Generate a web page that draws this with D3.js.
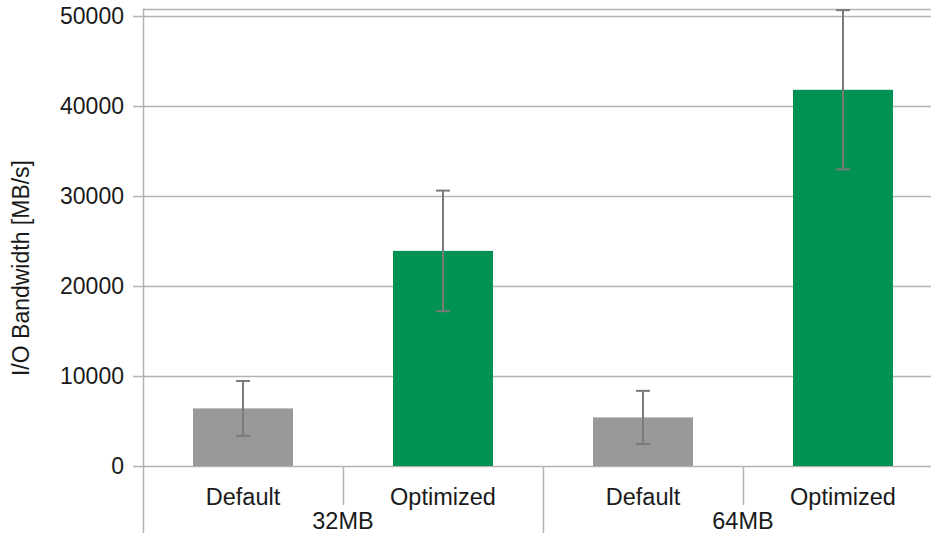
<!DOCTYPE html>
<html>
<head>
<meta charset="utf-8">
<script src="https://cdn.jsdelivr.net/npm/d3@7"></script>
<style>
  html, body { margin: 0; padding: 0; background: #fff; }
  svg { display: block; }
  text { font-family: "Liberation Sans", Arial, sans-serif; fill: #1a1a1a; }
</style>
</head>
<body>
<svg id="chart" width="931" height="535"></svg>
<script>
// Buffer sizes (outer groups) and variants (inner categories)
const groups = ["32MB", "64MB"];
const variants = ["Default", "Optimized"];
// Mean bandwidth [MB/s] per group, in variant order
const bandwidth32 = [6400, 23900];
const bandwidth64 = [5400, 41800];
// Error (± deviation) per group, in variant order
const error32 = [3050, 6700];
const error64 = [2950, 8850];
const yTicks = [0, 10000, 20000, 30000, 40000, 50000];

const colors = { Default: "#999999", Optimized: "#009252" };

const rows = [];
groups.forEach((g, gi) => {
  const vals = gi === 0 ? bandwidth32 : bandwidth64;
  const errs = gi === 0 ? error32 : error64;
  variants.forEach((v, vi) => rows.push({ group: g, variant: v, value: vals[vi], err: errs[vi] }));
});

const svg = d3.select("#chart");
const left = 143, plotW = 800, bottom = 466;
const yMax = 50800;

const y = d3.scaleLinear().domain([0, yMax]).range([bottom, bottom - yMax * 0.009]);
const x0 = d3.scaleBand().domain(groups).range([left, left + plotW]);
const x1 = d3.scaleBand().domain(variants).range([0, x0.bandwidth()])
  .paddingInner(0.5).paddingOuter(0.25);

const gridColor = "#b3b3b3";

// Horizontal gridlines
svg.append("g").selectAll("line").data(yTicks).join("line")
  .attr("x1", left - 10).attr("x2", left + plotW)
  .attr("y1", d => Math.round(y(d)) + 0.5).attr("y2", d => Math.round(y(d)) + 0.5)
  .attr("stroke", gridColor).attr("stroke-width", 1.5);

// Top frame line
svg.append("line")
  .attr("x1", left).attr("x2", left + plotW)
  .attr("y1", Math.round(y(yMax)) + 0.5).attr("y2", Math.round(y(yMax)) + 0.5)
  .attr("stroke", gridColor).attr("stroke-width", 1.5);

// Y axis tick labels
svg.append("g").selectAll("text").data(yTicks).join("text")
  .attr("x", 124).attr("y", d => y(d))
  .attr("dy", "0.36em")
  .attr("text-anchor", "end")
  .style("font-size", "23px")
  .text(d => d);

// Y axis title
svg.append("text")
  .attr("transform", "translate(29,268) rotate(-90)")
  .attr("text-anchor", "middle")
  .style("font-size", "23px")
  .text("I/O Bandwidth [MB/s]");

// Bars
const barG = svg.append("g");
barG.selectAll("rect").data(rows).join("rect")
  .attr("x", d => x0(d.group) + x1(d.variant))
  .attr("width", x1.bandwidth())
  .attr("y", d => y(d.value))
  .attr("height", d => y(0) - y(d.value))
  .attr("fill", d => colors[d.variant]);

// Error bars
const errG = svg.append("g").attr("stroke", "#7a7a7a").attr("stroke-width", 2);
rows.forEach(d => {
  const cx = x0(d.group) + x1(d.variant) + x1.bandwidth() / 2;
  errG.append("line").attr("x1", cx).attr("x2", cx)
    .attr("y1", y(d.value + d.err)).attr("y2", y(d.value - d.err));
  [d.value + d.err, d.value - d.err].forEach(v => {
    errG.append("line").attr("x1", cx - 7).attr("x2", cx + 7)
      .attr("y1", y(v)).attr("y2", y(v));
  });
});

// Left axis line
svg.append("line")
  .attr("x1", left + 0.5).attr("x2", left + 0.5)
  .attr("y1", y(yMax)).attr("y2", 533)
  .attr("stroke", gridColor).attr("stroke-width", 1.5);

// Category separators (inner) and group separators (outer)
const axisG = svg.append("g").attr("stroke", gridColor).attr("stroke-width", 1.5);
groups.forEach(g => {
  const mid = x0(g) + x0.bandwidth() / 2;
  axisG.append("line").attr("x1", mid + 0.5).attr("x2", mid + 0.5)
    .attr("y1", bottom).attr("y2", 505);
  const end = x0(g) + x0.bandwidth();
  axisG.append("line").attr("x1", end + 0.5).attr("x2", end + 0.5)
    .attr("y1", bottom).attr("y2", 533);
});

// Variant labels
svg.append("g").selectAll("text").data(rows).join("text")
  .attr("x", d => x0(d.group) + x1(d.variant) + x1.bandwidth() / 2)
  .attr("y", 505)
  .attr("text-anchor", "middle")
  .style("font-size", "23.5px")
  .text(d => d.variant);

// Group labels
svg.append("g").selectAll("text").data(groups).join("text")
  .attr("x", d => x0(d) + x0.bandwidth() / 2)
  .attr("y", 529)
  .attr("text-anchor", "middle")
  .style("font-size", "23.5px")
  .text(d => d);
</script>
</body>
</html>
